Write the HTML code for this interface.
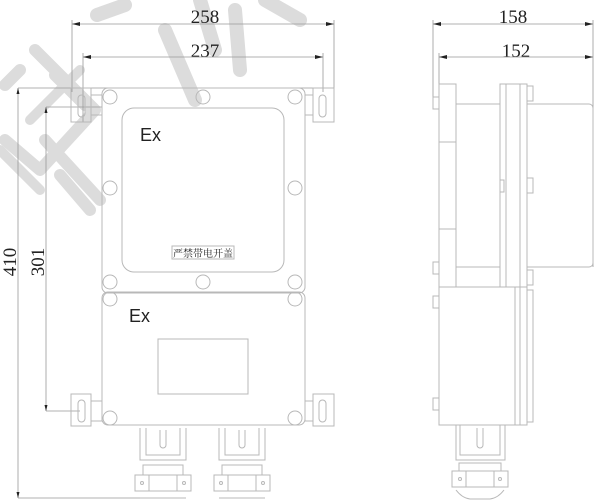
<!DOCTYPE html>
<html><head><meta charset="utf-8"><style>
html,body{margin:0;padding:0;background:#fff;}
svg{display:block;}
text{font-family:"Liberation Serif","Noto Serif CJK SC",serif;fill:#222;}
.s{fill:none;stroke:#b8b8b8;stroke-width:1;}
.d{fill:none;stroke:#999;stroke-width:0.8;}
.w{fill:none;stroke:#dcdcdc;stroke-linecap:round;stroke-linejoin:round;}
</style></head><body>
<svg width="600" height="501" viewBox="0 0 600 501" xmlns="http://www.w3.org/2000/svg">
<path class="w" stroke-width="12" d="M20 70 L5 85 M35 50 L95 110 L40 170 L5 140 M55 75 L85 105 M45 140 L100 200 M60 175 L90 210"/>
<path class="w" stroke-width="10" d="M0 150 L40 190 M30 120 L80 70"/>
<path class="w" stroke-width="14" d="M97 15 L125 5 M165 30 L195 100 M200 0 L215 50 M235 10 L240 70 M265 0 L300 20"/>
<text x="205" y="23" font-size="19" text-anchor="middle">258</text>
<text x="205" y="57" font-size="19" text-anchor="middle">237</text>
<path class="d" d="M72 24 H334 M83 57 H323 M72 20 V92 M334 20 V122 M83 53 V122 M323 53 V92 M18 88 H334 M46 107 H102 M18 88 V498 M46 107 V411 M46 411 H80 M18 498 H160"/>
<path d="M72 24 l8 -2 v4z M334 24 l-8 -2 v4z M83 57 l8 -2 v4z M323 57 l-8 -2 v4z M18 88 l-1.5 6 h3z M18 498 l-1.5 -6 h3z M46 107 l-1.5 6 h3z M46 411 l-1.5 -6 h3z" fill="#222"/>
<text transform="translate(16,262) rotate(-90)" font-size="19" text-anchor="middle">410</text>
<text transform="translate(44,262) rotate(-90)" font-size="19" text-anchor="middle">301</text>
<rect class="s" x="102" y="88" width="203" height="205" rx="6"/>
<rect class="s" x="122" y="108" width="162" height="164" rx="12"/>
<g class="s">
<circle cx="110" cy="97" r="7"/><circle cx="203" cy="97" r="7"/><circle cx="295" cy="97" r="7"/>
<circle cx="110" cy="188" r="7"/><circle cx="295" cy="188" r="7"/>
<circle cx="110" cy="282" r="7"/><circle cx="203" cy="282" r="7"/><circle cx="295" cy="282" r="7"/>
<circle cx="110" cy="299" r="7"/><circle cx="295" cy="299" r="7"/>
<circle cx="110" cy="418" r="7"/><circle cx="295" cy="418" r="7"/>
</g>
<text x="140" y="141" style="font-family:'Liberation Sans',sans-serif;font-size:18px">Ex</text>
<rect class="s" x="172" y="246" width="62" height="13"/>
<text x="203" y="257" font-size="10" text-anchor="middle">严禁带电开盖</text>
<rect class="s" x="102" y="292" width="203" height="133" rx="6"/>
<text x="129" y="322" style="font-family:'Liberation Sans',sans-serif;font-size:18px">Ex</text>
<rect class="s" x="158" y="339" width="90" height="55"/>
<g class="s">
<rect x="71" y="88" width="20" height="34"/><rect x="78" y="95" width="7" height="22" rx="3.5"/><rect x="91" y="95" width="11" height="20"/>
<rect x="313" y="88" width="21" height="34"/><rect x="319" y="95" width="7" height="22" rx="3.5"/><rect x="305" y="95" width="8" height="20"/>
<rect x="71" y="394" width="20" height="32"/><rect x="78" y="400" width="7" height="22" rx="3.5"/><rect x="91" y="401" width="11" height="20"/>
<rect x="313" y="394" width="21" height="32"/><rect x="319" y="400" width="7" height="22" rx="3.5"/><rect x="305" y="401" width="8" height="20"/>
</g>
<g class="s">
<path d="M140 428 V460 H186 V428 M146 428 V455 H180 V428 M160 430 V445 a3 3 0 0 0 6 0 V430"/>
<rect x="143" y="465" width="40" height="10"/><rect x="135" y="475" width="56" height="16"/><rect x="149" y="475" width="28" height="16"/>
<circle cx="142" cy="483" r="1.5"/><circle cx="184" cy="483" r="1.5"/>
<path d="M140 498 H186"/>
<path d="M219 428 V460 H265 V428 M225 428 V455 H259 V428 M239 430 V445 a3 3 0 0 0 6 0 V430"/>
<rect x="222" y="465" width="40" height="10"/><rect x="214" y="475" width="56" height="16"/><rect x="228" y="475" width="28" height="16"/>
<circle cx="221" cy="483" r="1.5"/><circle cx="263" cy="483" r="1.5"/>
<path d="M219 498 H265"/>
</g>
<text x="513" y="23" font-size="19" text-anchor="middle">158</text>
<text x="516" y="57" font-size="19" text-anchor="middle">152</text>
<path class="d" d="M433 24 H593 M439 57 H593 M433 20 V100 M593 20 V267 M439 53 V84"/>
<path d="M433 24 l8 -2 v4z M593 24 l-8 -2 v4z M439 57 l8 -2 v4z M593 57 l-8 -2 v4z" fill="#222"/>
<g class="s">
<rect x="439" y="84" width="17" height="203"/>
<rect x="439" y="84" width="17" height="58"/>
<rect x="439" y="229" width="17" height="58"/>
<path d="M456 104 H500 M456 267 H500"/>
<rect x="500" y="84" width="27" height="203"/>
<path d="M506 84 V287 M520 84 V287"/>
<path d="M527 104 H589 a4 4 0 0 1 4 4 V263 a4 4 0 0 1 -4 4 H527"/>
<rect x="527" y="86" width="6" height="15"/><rect x="527" y="178" width="6" height="15"/><rect x="527" y="270" width="6" height="15"/>
<rect x="500" y="180" width="4" height="12"/>
<rect x="433" y="97" width="6" height="12"/><rect x="433" y="262" width="6" height="12"/>
<rect x="433" y="296" width="6" height="12"/><rect x="433" y="398" width="6" height="12"/>
<rect x="439" y="287" width="88" height="138"/>
<path d="M515 287 V425 M520 287 V425"/>
<rect x="527" y="290" width="6" height="132"/>
<path d="M456 425 V460 H505 V425 M460 425 V455 H500 V425 M477 428 V445 a3 3 0 0 0 6 0 V428"/>
<rect x="459" y="463" width="42" height="8"/><rect x="452" y="471" width="56" height="16"/><rect x="466" y="471" width="28" height="16"/>
<circle cx="460" cy="479" r="1.5"/><circle cx="500" cy="479" r="1.5"/>
<path d="M456 490 Q462 498 470 499 H490 Q498 498 504 490"/>
</g>
</svg>
</body></html>
